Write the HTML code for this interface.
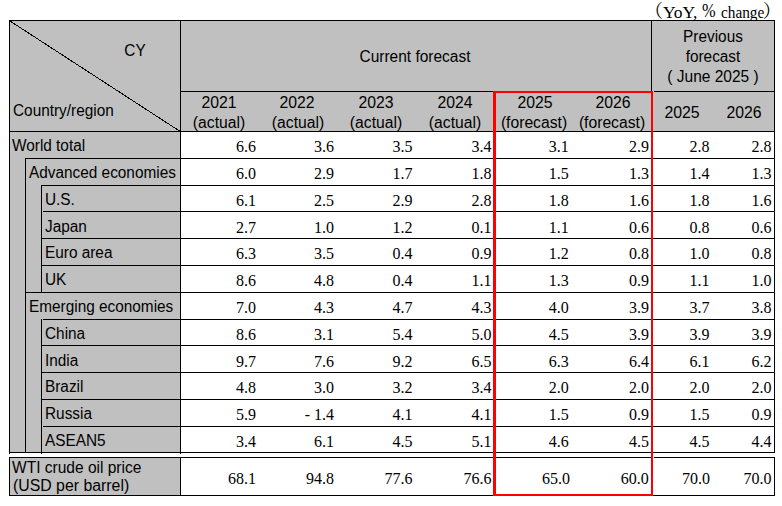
<!DOCTYPE html>
<html lang="en"><head><meta charset="utf-8"><title>World economic outlook forecast table</title>
<style>
html,body{margin:0;padding:0;background:#fff;}
#page{position:relative;width:782px;height:506px;overflow:hidden;background:#fff;color:#000;}
.g{position:absolute;background:#c0c0c0;}
.h{position:absolute;height:1px;background:#000;}
.v{position:absolute;width:1px;background:#000;}
.r{position:absolute;background:#ff0000;}
.s{position:absolute;white-space:nowrap;font-family:"Liberation Sans",Arial,sans-serif;font-size:16px;line-height:20px;height:20px;transform:scaleX(0.96);}
.l{transform-origin:0 50%;}
.c{transform-origin:50% 50%;text-align:center;}
.n{position:absolute;white-space:nowrap;font-family:"Liberation Serif","Times New Roman",serif;font-size:16px;line-height:20px;height:20px;text-align:right;width:70px;}
.u{position:absolute;white-space:nowrap;font-family:"Liberation Serif","Noto Serif CJK SC",serif;font-size:16px;line-height:20px;height:20px;}
</style></head><body><div id="page">
<div class="u" style="left:644.5px;top:1.36px;font-size:18.5px;transform:scaleX(1);transform-origin:0 50%">（</div>
<div class="u" style="left:662.7px;top:3.30px;font-size:16px;transform:scaleX(1.09);transform-origin:0 50%">YoY,</div>
<div class="u" style="left:701.8px;top:1.19px;font-size:19px;transform:scaleX(0.86);transform-origin:0 50%">%</div>
<div class="u" style="left:721.4px;top:3.30px;font-size:16px;transform:scaleX(0.956);transform-origin:0 50%">change</div>
<div class="u" style="left:762.8px;top:1.36px;font-size:18.5px;transform:scaleX(1);transform-origin:0 50%">）</div>
<div class="g" style="left:9px;top:20px;width:766px;height:111px"></div>
<div class="g" style="left:9px;top:131px;width:172px;height:322px"></div>
<div class="g" style="left:9px;top:457px;width:172px;height:39px"></div>
<div class="h" style="left:9px;top:20px;width:766px"></div>
<div class="h" style="left:180px;top:91px;width:314px"></div>
<div class="h" style="left:654px;top:91px;width:121px"></div>
<div class="h" style="left:9px;top:131px;width:766px"></div>
<div class="h" style="left:25px;top:158px;width:750px"></div>
<div class="h" style="left:41px;top:185px;width:734px"></div>
<div class="h" style="left:43px;top:211px;width:732px"></div>
<div class="h" style="left:41px;top:238px;width:734px"></div>
<div class="h" style="left:41px;top:265px;width:734px"></div>
<div class="h" style="left:25px;top:292px;width:750px"></div>
<div class="h" style="left:43px;top:319px;width:732px"></div>
<div class="h" style="left:41px;top:345px;width:734px"></div>
<div class="h" style="left:41px;top:372px;width:734px"></div>
<div class="h" style="left:41px;top:399px;width:734px"></div>
<div class="h" style="left:43px;top:426px;width:732px"></div>
<div class="h" style="left:9px;top:452px;width:766px"></div>
<div class="h" style="left:9px;top:457px;width:644px"></div>
<div class="h" style="left:654px;top:457px;width:121px"></div>
<div class="h" style="left:9px;top:495px;width:766px"></div>
<div class="v" style="left:9px;top:20px;height:434px"></div>
<div class="v" style="left:9px;top:457px;height:39px"></div>
<div class="v" style="left:25px;top:158px;height:295px"></div>
<div class="v" style="left:41px;top:185px;height:108px"></div>
<div class="v" style="left:41px;top:319px;height:135px"></div>
<div class="v" style="left:180px;top:20px;height:434px"></div>
<div class="v" style="left:180px;top:457px;height:39px"></div>
<div class="v" style="left:651px;top:20px;height:72px"></div>
<div class="v" style="left:774px;top:20px;height:433px"></div>
<div class="v" style="left:774px;top:457px;height:39px"></div>
<svg style="position:absolute;left:10px;top:21px" width="171" height="111" viewBox="0 0 171 111" shape-rendering="crispEdges"><line x1="0" y1="0" x2="171" y2="111" stroke="#000" stroke-width="1"/></svg>
<div class="r" style="left:493px;top:91px;width:3px;height:405px"></div>
<div class="r" style="left:651px;top:91px;width:2px;height:405px"></div>
<div class="r" style="left:493px;top:91px;width:160px;height:2px"></div>
<div class="r" style="left:493px;top:494px;width:160px;height:2px"></div>
<div class="s c" style="left:35px;top:41.46px;width:200px">CY</div>
<div class="s l" style="left:13px;top:101.46px">Country/region</div>
<div class="s c" style="left:315.2px;top:47.46px;width:200px;transform:scaleX(0.968)">Current forecast</div>
<div class="s c" style="left:613px;top:26.96px;width:200px">Previous</div>
<div class="s c" style="left:612.5px;top:47.16px;width:200px">forecast</div>
<div class="s c" style="left:612.6px;top:67.26px;width:200px;transform:scaleX(0.97)">( June 2025 )</div>
<div class="s c" style="left:118.6px;top:93.46px;width:200px;transform:scaleX(0.985)">2021</div>
<div class="s c" style="left:119.1px;top:113.46px;width:200px;transform:scaleX(0.98)">(actual)</div>
<div class="s c" style="left:197.1px;top:93.46px;width:200px;transform:scaleX(0.985)">2022</div>
<div class="s c" style="left:197.6px;top:113.46px;width:200px;transform:scaleX(0.98)">(actual)</div>
<div class="s c" style="left:275.6px;top:93.46px;width:200px;transform:scaleX(0.985)">2023</div>
<div class="s c" style="left:276.1px;top:113.46px;width:200px;transform:scaleX(0.98)">(actual)</div>
<div class="s c" style="left:354.6px;top:93.46px;width:200px;transform:scaleX(0.985)">2024</div>
<div class="s c" style="left:355.1px;top:113.46px;width:200px;transform:scaleX(0.98)">(actual)</div>
<div class="s c" style="left:434.6px;top:93.46px;width:200px;transform:scaleX(0.985)">2025</div>
<div class="s c" style="left:433.6px;top:113.46px;width:200px;transform:scaleX(0.98)">(forecast)</div>
<div class="s c" style="left:512.6px;top:93.46px;width:200px;transform:scaleX(0.985)">2026</div>
<div class="s c" style="left:511.6px;top:113.46px;width:200px;transform:scaleX(0.98)">(forecast)</div>
<div class="s c" style="left:581.9px;top:103.16px;width:200px;transform:scaleX(0.99)">2025</div>
<div class="s c" style="left:644px;top:103.16px;width:200px;transform:scaleX(0.985)">2026</div>
<div class="s l" style="left:12px;top:136.46px">World total</div>
<div class="n" style="left:186px;top:136.90px">6.6</div>
<div class="n" style="left:264px;top:136.90px">3.6</div>
<div class="n" style="left:342.5px;top:136.90px">3.5</div>
<div class="n" style="left:421.5px;top:136.90px">3.4</div>
<div class="n" style="left:498.8px;top:136.90px">3.1</div>
<div class="n" style="left:579px;top:136.90px">2.9</div>
<div class="n" style="left:639.5px;top:136.90px">2.8</div>
<div class="n" style="left:701.5px;top:136.90px">2.8</div>
<div class="s l" style="left:29px;top:163.46px">Advanced economies</div>
<div class="n" style="left:186px;top:163.90px">6.0</div>
<div class="n" style="left:264px;top:163.90px">2.9</div>
<div class="n" style="left:342.5px;top:163.90px">1.7</div>
<div class="n" style="left:421.5px;top:163.90px">1.8</div>
<div class="n" style="left:498.8px;top:163.90px">1.5</div>
<div class="n" style="left:579px;top:163.90px">1.3</div>
<div class="n" style="left:639.5px;top:163.90px">1.4</div>
<div class="n" style="left:701.5px;top:163.90px">1.3</div>
<div class="s l" style="left:45px;top:190.46px">U.S.</div>
<div class="n" style="left:186px;top:190.90px">6.1</div>
<div class="n" style="left:264px;top:190.90px">2.5</div>
<div class="n" style="left:342.5px;top:190.90px">2.9</div>
<div class="n" style="left:421.5px;top:190.90px">2.8</div>
<div class="n" style="left:498.8px;top:190.90px">1.8</div>
<div class="n" style="left:579px;top:190.90px">1.6</div>
<div class="n" style="left:639.5px;top:190.90px">1.8</div>
<div class="n" style="left:701.5px;top:190.90px">1.6</div>
<div class="s l" style="left:45px;top:217.46px">Japan</div>
<div class="n" style="left:186px;top:217.90px">2.7</div>
<div class="n" style="left:264px;top:217.90px">1.0</div>
<div class="n" style="left:342.5px;top:217.90px">1.2</div>
<div class="n" style="left:421.5px;top:217.90px">0.1</div>
<div class="n" style="left:498.8px;top:217.90px">1.1</div>
<div class="n" style="left:579px;top:217.90px">0.6</div>
<div class="n" style="left:639.5px;top:217.90px">0.8</div>
<div class="n" style="left:701.5px;top:217.90px">0.6</div>
<div class="s l" style="left:45px;top:243.46px">Euro area</div>
<div class="n" style="left:186px;top:243.90px">6.3</div>
<div class="n" style="left:264px;top:243.90px">3.5</div>
<div class="n" style="left:342.5px;top:243.90px">0.4</div>
<div class="n" style="left:421.5px;top:243.90px">0.9</div>
<div class="n" style="left:498.8px;top:243.90px">1.2</div>
<div class="n" style="left:579px;top:243.90px">0.8</div>
<div class="n" style="left:639.5px;top:243.90px">1.0</div>
<div class="n" style="left:701.5px;top:243.90px">0.8</div>
<div class="s l" style="left:45px;top:270.46px">UK</div>
<div class="n" style="left:186px;top:270.90px">8.6</div>
<div class="n" style="left:264px;top:270.90px">4.8</div>
<div class="n" style="left:342.5px;top:270.90px">0.4</div>
<div class="n" style="left:421.5px;top:270.90px">1.1</div>
<div class="n" style="left:498.8px;top:270.90px">1.3</div>
<div class="n" style="left:579px;top:270.90px">0.9</div>
<div class="n" style="left:639.5px;top:270.90px">1.1</div>
<div class="n" style="left:701.5px;top:270.90px">1.0</div>
<div class="s l" style="left:29px;top:297.46px">Emerging economies</div>
<div class="n" style="left:186px;top:297.90px">7.0</div>
<div class="n" style="left:264px;top:297.90px">4.3</div>
<div class="n" style="left:342.5px;top:297.90px">4.7</div>
<div class="n" style="left:421.5px;top:297.90px">4.3</div>
<div class="n" style="left:498.8px;top:297.90px">4.0</div>
<div class="n" style="left:579px;top:297.90px">3.9</div>
<div class="n" style="left:639.5px;top:297.90px">3.7</div>
<div class="n" style="left:701.5px;top:297.90px">3.8</div>
<div class="s l" style="left:45px;top:324.46px">China</div>
<div class="n" style="left:186px;top:324.90px">8.6</div>
<div class="n" style="left:264px;top:324.90px">3.1</div>
<div class="n" style="left:342.5px;top:324.90px">5.4</div>
<div class="n" style="left:421.5px;top:324.90px">5.0</div>
<div class="n" style="left:498.8px;top:324.90px">4.5</div>
<div class="n" style="left:579px;top:324.90px">3.9</div>
<div class="n" style="left:639.5px;top:324.90px">3.9</div>
<div class="n" style="left:701.5px;top:324.90px">3.9</div>
<div class="s l" style="left:44.6px;top:351.16px">India</div>
<div class="n" style="left:186px;top:351.60px">9.7</div>
<div class="n" style="left:264px;top:351.60px">7.6</div>
<div class="n" style="left:342.5px;top:351.60px">9.2</div>
<div class="n" style="left:421.5px;top:351.60px">6.5</div>
<div class="n" style="left:498.8px;top:351.60px">6.3</div>
<div class="n" style="left:579px;top:351.60px">6.4</div>
<div class="n" style="left:639.5px;top:351.60px">6.1</div>
<div class="n" style="left:701.5px;top:351.60px">6.2</div>
<div class="s l" style="left:45px;top:377.46px">Brazil</div>
<div class="n" style="left:186px;top:377.90px">4.8</div>
<div class="n" style="left:264px;top:377.90px">3.0</div>
<div class="n" style="left:342.5px;top:377.90px">3.2</div>
<div class="n" style="left:421.5px;top:377.90px">3.4</div>
<div class="n" style="left:498.8px;top:377.90px">2.0</div>
<div class="n" style="left:579px;top:377.90px">2.0</div>
<div class="n" style="left:639.5px;top:377.90px">2.0</div>
<div class="n" style="left:701.5px;top:377.90px">2.0</div>
<div class="s l" style="left:45px;top:404.46px">Russia</div>
<div class="n" style="left:186px;top:404.90px">5.9</div>
<div class="n" style="left:264px;top:404.90px">- 1.4</div>
<div class="n" style="left:342.5px;top:404.90px">4.1</div>
<div class="n" style="left:421.5px;top:404.90px">4.1</div>
<div class="n" style="left:498.8px;top:404.90px">1.5</div>
<div class="n" style="left:579px;top:404.90px">0.9</div>
<div class="n" style="left:639.5px;top:404.90px">1.5</div>
<div class="n" style="left:701.5px;top:404.90px">0.9</div>
<div class="s l" style="left:45px;top:431.46px">ASEAN5</div>
<div class="n" style="left:186px;top:431.90px">3.4</div>
<div class="n" style="left:264px;top:431.90px">6.1</div>
<div class="n" style="left:342.5px;top:431.90px">4.5</div>
<div class="n" style="left:421.5px;top:431.90px">5.1</div>
<div class="n" style="left:498.8px;top:431.90px">4.6</div>
<div class="n" style="left:579px;top:431.90px">4.5</div>
<div class="n" style="left:639.5px;top:431.90px">4.5</div>
<div class="n" style="left:701.5px;top:431.90px">4.4</div>
<div class="s l" style="left:12px;top:458.46px;transform:scaleX(0.97)">WTI crude oil price</div>
<div class="s l" style="left:12.5px;top:476.46px;transform:scaleX(0.99)">(USD per barrel)</div>
<div class="n" style="left:186px;top:469.30px">68.1</div>
<div class="n" style="left:264px;top:469.30px">94.8</div>
<div class="n" style="left:342.5px;top:469.30px">77.6</div>
<div class="n" style="left:421.5px;top:469.30px">76.6</div>
<div class="n" style="left:500px;top:469.30px">65.0</div>
<div class="n" style="left:578.7px;top:469.30px">60.0</div>
<div class="n" style="left:640px;top:469.30px">70.0</div>
<div class="n" style="left:701.5px;top:469.30px">70.0</div>
</div></body></html>
